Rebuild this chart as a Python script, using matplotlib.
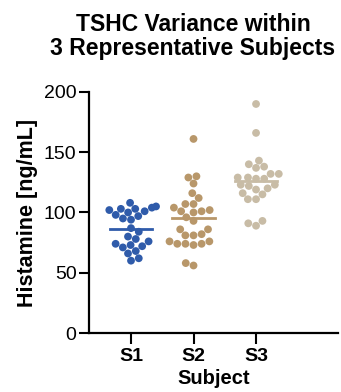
import matplotlib
matplotlib.use("Agg")
import matplotlib.pyplot as plt
import numpy as np
import pandas as pd
import seaborn as sns

subjects = ["S1", "S2", "S3"]
colors = ["#2F5BAA", "#B8976A", "#C8BCA6"]

s1_values = [108, 104, 103, 105, 102, 101, 100, 103, 97, 95, 94, 98, 87, 84,
             80, 78, 76, 74, 72, 71, 73, 68, 66, 62, 60]
s2_values = [161, 130, 129, 124, 116, 112, 107, 107, 104, 102, 100, 101, 101,
             96, 93, 86, 86, 82, 81, 81, 76, 74, 74, 73, 74, 76, 58, 56]
s3_values = [190, 166, 143, 140, 138, 137, 132, 132, 128, 128, 129, 129, 122,
             123, 123, 120, 119, 116, 115, 111, 111, 89, 93, 91]

title = "TSHC Variance within\n3 Representative Subjects"
ylabel = "Histamine [ng/mL]"
xlabel = "Subject"
yticks = [0, 50, 100, 150, 200]

all_values = [s1_values, s2_values, s3_values]
df = pd.DataFrame({
    "subject": [s for s, v in zip(subjects, all_values) for _ in v],
    "value": [x for v in all_values for x in v],
})

plt.rcParams['font.family'] = ['Liberation Sans', 'DejaVu Sans']

fig = plt.figure(figsize=(3.41, 3.92), dpi=100)
ax = fig.add_axes([0.261, 0.1505, 0.73, 0.615])

sns.swarmplot(data=df, x="subject", y="value", hue="subject", palette=colors,
              order=subjects, size=5.6, ax=ax, legend=False, linewidth=0)

for i, v in enumerate(all_values):
    m = np.mean(v)
    ax.plot([i - 0.34, i + 0.34], [m, m], color=colors[i], lw=2.0, zorder=3)

ax.set_xlim(-0.672, 3.31)
ax.set_ylim(0, 200)
ax.set_yticks(yticks)
ax.set_xticks(range(len(subjects)))
ax.set_xticklabels(subjects, fontsize=14, fontweight='bold')
ax.tick_params(axis='y', labelsize=14, width=1.5, length=7, pad=2)
ax.tick_params(axis='x', width=1.5, length=8, pad=3)
for sp in ['top', 'right']:
    ax.spines[sp].set_visible(False)
for sp in ['left', 'bottom']:
    ax.spines[sp].set_linewidth(1.6)
ax.set_ylabel(ylabel, fontsize=15.5, fontweight='bold', labelpad=4)
ax.set_xlabel(xlabel, fontsize=14.5, fontweight='bold', labelpad=3)
fig.text(0.566, 0.968, title, ha='center', va='top', fontsize=16.5,
         fontweight='bold', linespacing=1.1)

fig.savefig("out.png", dpi=100)
